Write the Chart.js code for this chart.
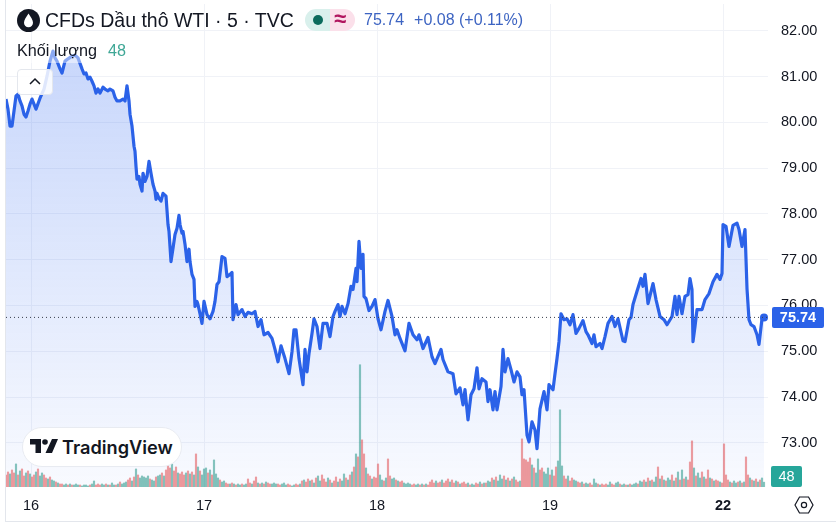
<!DOCTYPE html>
<html>
<head>
<meta charset="utf-8">
<title>CFDs Dầu thô WTI</title>
<script src="https://cdn.jsdelivr.net/npm/chart.js@4/dist/chart.umd.min.js"></script>
<style>
    html, body { margin: 0; padding: 0; background: #fff; }
    #wrap { position: relative; width: 836px; height: 523px; overflow: hidden; font-family: "Liberation Sans", Arial, sans-serif; color: #131722; }
    #wrap canvas { position: absolute; left: 0; top: 0; }
    .abs { position: absolute; white-space: nowrap; }
    #left_line { left: 5px; top: 0; width: 1px; height: 521px; background: #e3e6ec; }
    #bottom_line { left: 5px; top: 521px; width: 831px; height: 1px; background: #e3e6ec; }
    #legend_bg { left: 15px; top: 40px; width: 116px; height: 23px; background: rgba(255, 255, 255, 0.45); }
    #title { left: 45px; top: 8px; font-size: 19.5px; line-height: 24px; }
    #quote { left: 364px; top: 10px; font-size: 16px; line-height: 20px; color: #3d64c2; }
    #quote span { margin-left: 10px; }
    #volume_title { left: 17px; top: 40px; font-size: 16.2px; line-height: 20px; }
    #volume_value { left: 108px; top: 40px; font-size: 16.2px; line-height: 20px; color: #3fa796; }
    #collapse { left: 17px; top: 69px; width: 34px; height: 24px; background: rgba(255, 255, 255, 0.85); border: 1px solid #e4e7ed; border-radius: 4px; }
    #status_left { left: 305px; top: 9px; width: 25px; height: 22px; background: #d9f0ec; border-radius: 11px 0 0 11px; }
    #status_right { left: 330px; top: 9px; width: 25px; height: 22px; background: #fbe0ea; border-radius: 0 11px 11px 0; }
    #status_dot { left: 313px; top: 15px; width: 10px; height: 10px; background: #0b6b5c; border-radius: 50%; }
    #status_wave { left: 334px; top: 7px; font-size: 22px; line-height: 24px; font-weight: bold; color: #b1165f; }
    #logo { left: 22px; top: 427px; width: 158px; height: 38px; background: #fff; border: 1px solid #e8ebf1; border-radius: 20px; }
    #logo_text { left: 39px; top: 8px; font-family: Inter, sans-serif; font-weight: 600; font-size: 18.2px; line-height: 22px; color: #131722; }
</style>
</head>
<body>
<div id="wrap">
    <canvas id="oil_chart" width="836" height="523"></canvas>
    <div class="abs" id="left_line"></div>
    <div class="abs" id="bottom_line"></div>
    <div class="abs" id="legend_bg"></div>
    <svg class="abs" style="left:17px;top:9px" width="23" height="23" viewBox="0 0 23 23">
        <circle cx="11.5" cy="11.5" r="11.5" fill="#131722"/>
        <path d="M11.5 4.5 C9 8.5 7 11 7 13.8 A4.5 4.5 0 0 0 16 13.8 C16 11 14 8.5 11.5 4.5 Z" fill="#fff"/>
    </svg>
    <div class="abs" id="title">CFDs Dầu thô WTI · 5 · TVC</div>
    <div class="abs" id="status_left"></div>
    <div class="abs" id="status_right"></div>
    <div class="abs" id="status_dot"></div>
    <div class="abs" id="status_wave">≈</div>
    <div class="abs" id="quote">75.74<span>+0.08 (+0.11%)</span></div>
    <div class="abs" id="volume_title">Khối lượng</div>
    <div class="abs" id="volume_value">48</div>
    <div class="abs" id="collapse">
        <svg style="position:absolute;left:10px;top:7px" width="14" height="9" viewBox="0 0 14 9">
            <path d="M2 7 L7 2 L12 7" fill="none" stroke="#131722" stroke-width="1.5"/>
        </svg>
    </div>
    <div class="abs" id="logo">
        <svg style="position:absolute;left:7px;top:11px" width="28" height="15" viewBox="0 0 28 15">
            <path d="M0 0 H11 V14 H5.5 V5.5 H0 Z M22 0 H28 L22 14 H15.5 Z" fill="#131722"/>
            <circle cx="15" cy="3" r="2.8" fill="#131722"/>
        </svg>
        <div class="abs" id="logo_text">TradingView</div>
    </div>
    <svg class="abs" style="left:794px;top:496px" width="20" height="18" viewBox="0 0 20 18">
        <path d="M5.5 1 H14.5 L19 9 L14.5 17 H5.5 L1 9 Z" fill="none" stroke="#131722" stroke-width="1.2"/>
        <circle cx="10" cy="9" r="2.6" fill="none" stroke="#131722" stroke-width="1.2"/>
    </svg>
</div>
<script>
// one axis unit is one bar slot, 173 slots to a trading day
var dayTicks = [25, 198, 371, 544, 717];
var dayLabels = ['16', '17', '18', '19', '22'];
var priceTicks = [73, 74, 75, 76, 77, 78, 79, 80, 81, 82];
var lastPrice = 75.74;
var lastVolume = 48;

var priceBars = [
    0, 2, 4, 6, 8, 10, 12, 14, 16, 18,
    20, 22, 24, 26, 30, 34, 38, 41, 44, 47,
    49, 51, 54, 56, 59, 62, 66, 69, 72, 76,
    78, 80, 82, 84, 86, 88, 90, 92, 94, 97,
    99, 102, 104, 107, 109, 111, 114, 117, 119, 121,
    123, 124, 126, 128, 129, 130, 131, 133, 134, 136,
    137, 139, 141, 143, 145, 147, 149, 150, 151, 153,
    155, 157, 160, 162, 163, 165, 167, 169, 171, 173,
    174, 176, 177, 179, 181, 183, 184, 186, 188, 189,
    191, 192, 194, 196, 198, 201, 204, 207, 209, 211,
    213, 216, 219, 221, 224, 226, 227, 230, 232, 236,
    239, 242, 246, 249, 252, 255, 258, 262, 266, 269,
    272, 275, 279, 283, 286, 288, 290, 293, 295, 297,
    299, 301, 303, 306, 308, 311, 314, 317, 321, 324,
    327, 329, 332, 334, 336, 339, 342, 345, 347, 350,
    351, 353, 355, 357, 358, 360, 363, 366, 369, 372,
    375, 379, 382, 386, 389, 391, 394, 399, 403, 407,
    411, 413, 417, 422, 426, 429, 435, 437, 442, 447,
    450, 454, 457, 459, 462, 465, 468, 471, 473, 476,
    480, 482, 484, 487, 489, 491, 495, 497, 499, 502,
    505, 508, 511, 514, 516, 518, 521, 523, 526, 529,
    531, 534, 538, 541, 543, 547, 549, 551, 553, 555,
    558, 561, 564, 567, 570, 573, 577, 580, 582, 586,
    588, 590, 594, 596, 599, 602, 606, 609, 612, 617,
    619, 623, 625, 627, 631, 635, 637, 639, 642, 647,
    650, 654, 658, 661, 666, 669, 671, 673, 676, 679,
    682, 684, 686, 687, 689, 691, 696, 699, 703, 707,
    711, 714, 716, 717, 720, 723, 727, 731, 733, 736,
    739, 741, 743, 745, 748, 751, 753, 756, 758
];
var priceValues = [
    80.51, 80.29, 79.92, 79.92, 80.25, 80.58, 80.62, 80.47, 80.36, 80.18,
    80.12, 80.25, 80.40, 80.51, 80.29, 80.53, 80.73, 81.01, 81.34, 81.56,
    81.41, 81.34, 81.17, 81.08, 81.34, 81.39, 81.45, 81.47, 81.41, 81.17,
    81.06, 81.08, 80.95, 80.99, 80.90, 80.80, 80.64, 80.73, 80.64, 80.77,
    80.73, 80.69, 80.73, 80.69, 80.55, 80.47, 80.47, 80.51, 80.47, 80.80,
    80.47, 80.18, 79.92, 79.48, 79.37, 79.04, 78.76, 78.82, 78.65, 78.50,
    78.89, 78.71, 78.82, 79.15, 78.89, 78.65, 78.50, 78.32, 78.45, 78.34,
    78.28, 78.45, 78.39, 77.77, 77.62, 76.96, 77.25, 77.55, 77.69, 77.97,
    77.77, 77.58, 77.62, 77.34, 76.96, 77.23, 76.96, 76.68, 76.57, 75.98,
    76.09, 76.02, 75.82, 75.61, 76.09, 75.80, 75.71, 75.87, 76.09, 76.46,
    76.52, 77.07, 77.03, 76.63, 76.68, 76.72, 75.69, 76.02, 75.80, 75.91,
    75.76, 75.85, 75.82, 75.87, 75.54, 75.69, 75.36, 75.41, 75.28, 75.04,
    74.77, 75.12, 74.84, 74.51, 74.99, 75.47, 75.47, 74.84, 74.55, 74.27,
    75.04, 74.55, 74.95, 75.39, 75.71, 75.54, 75.06, 75.61, 75.61, 75.32,
    75.76, 75.87, 76.02, 75.76, 75.98, 75.82, 76.04, 76.42, 76.35, 76.81,
    76.52, 77.40, 76.81, 77.12, 76.20, 76.15, 75.89, 75.98, 76.13, 75.71,
    75.47, 75.87, 76.11, 75.76, 75.36, 75.47, 75.28, 75.01, 75.61, 75.36,
    75.25, 75.36, 75.06, 75.30, 74.88, 74.73, 75.04, 74.82, 74.55, 74.51,
    74.07, 74.20, 73.83, 74.16, 73.50, 74.05, 74.18, 74.64, 74.18, 74.40,
    74.33, 73.90, 74.16, 73.72, 74.12, 73.72, 74.23, 75.04, 74.55, 74.84,
    74.60, 74.33, 74.55, 74.44, 74.05, 74.16, 73.17, 73.02, 73.46, 73.28,
    72.87, 73.74, 74.12, 73.72, 74.27, 74.16, 74.51, 74.84, 75.21, 75.82,
    75.69, 75.71, 75.58, 75.80, 75.39, 75.50, 75.67, 75.43, 75.36, 75.17,
    75.36, 75.10, 75.17, 75.06, 75.32, 75.61, 75.76, 75.54, 75.71, 75.23,
    75.21, 75.69, 75.74, 76.02, 76.31, 76.59, 76.42, 76.68, 76.04, 76.48,
    76.13, 75.76, 75.69, 75.58, 75.76, 76.20, 75.80, 76.20, 75.82, 76.20,
    76.24, 76.59, 76.35, 75.21, 75.54, 75.91, 75.91, 76.13, 76.26, 76.52,
    76.68, 76.57, 76.70, 77.77, 77.73, 77.29, 77.75, 77.80, 77.66, 77.29,
    77.66, 76.37, 75.69, 75.58, 75.54, 75.36, 75.15, 75.71, 75.74
];

// volume per bar, every second slot
var volumeValues = [
    120, 150, 130, 170, 140, 230, 120, 160, 180, 110, 140, 160, 130, 100, 120, 150, 180, 110, 140, 120,
    90, 80, 100, 70, 60, 50, 40, 30, 30, 20, 30, 20, 30, 20, 20, 30, 20, 20, 10, 20,
    20, 10, 20, 30, 60, 20, 30, 20, 30, 20, 30, 20, 20, 40, 20, 20, 30, 50, 30, 40,
    50, 70, 90, 60, 100, 180, 120, 90, 110, 100, 90, 110, 80, 70, 60, 100, 110, 120, 140, 110,
    170, 220, 190, 230, 160, 200, 140, 130, 150, 120, 140, 160, 130, 150, 120, 330, 200, 160, 120, 180,
    190, 140, 170, 120, 270, 130, 90, 70, 50, 60, 40, 30, 30, 40, 30, 20, 30, 20, 30, 20,
    30, 80, 40, 30, 60, 100, 40, 30, 40, 30, 50, 40, 30, 30, 40, 30, 30, 20, 30, 40,
    20, 30, 20, 10, 20, 30, 20, 30, 60, 70, 50, 80, 60, 70, 40, 90, 110, 60, 120, 80,
    50, 90, 70, 40, 60, 100, 50, 80, 60, 130, 90, 70, 120, 150, 200, 330, 300, 1220, 470, 330,
    190, 130, 110, 80, 100, 90, 230, 120, 70, 60, 90, 280, 110, 80, 90, 70, 60, 50, 60, 40,
    30, 40, 30, 20, 30, 20, 30, 20, 30, 20, 30, 20, 50, 70, 40, 60, 40, 50, 70, 40,
    60, 80, 50, 70, 40, 60, 50, 30, 40, 50, 30, 40, 20, 30, 20, 40, 30, 50, 30, 40,
    40, 60, 50, 90, 70, 100, 60, 120, 80, 110, 70, 90, 60, 80, 100, 70, 50, 60, 480, 280,
    270, 250, 290, 220, 190, 140, 280, 170, 190, 150, 130, 190, 120, 170, 110, 200, 260, 770, 210, 110,
    80, 110, 60, 90, 70, 60, 50, 40, 50, 30, 40, 30, 40, 20, 80, 40, 30, 20, 30, 20,
    30, 20, 50, 30, 20, 40, 50, 30, 20, 30, 20, 20, 30, 20, 30, 40, 30, 60, 50, 70,
    50, 90, 60, 70, 50, 100, 200, 80, 110, 70, 60, 90, 70, 120, 60, 90, 150, 70, 170, 80,
    100, 70, 250, 460, 190, 110, 140, 90, 150, 100, 80, 170, 90, 80, 60, 70, 60, 50, 40, 430,
    120, 70, 50, 40, 60, 40, 50, 60, 40, 50, 300, 120, 90, 70, 60, 80, 50, 70, 90, 48
];
// g = bar closed up, r = bar closed down
var volumeSides = (
    "rrgrrgrgrrgrgrrgrggr" + "rgrggrgrrggrgrgggrgg" + "ggrggrrrggrgrggrgrgg" + "grrgrgrgggggrggrggrg" +
    "rrrgrrgrrrgrgrgrgrgg" + "grgrgggrggrrgrgrggrg" + "grrgrrgrgrgrrgggrrgg" + "grrggrrgrgrrgrgrggrr" +
    "rgrgrrgrggrgrgrgrgrr" + "grrgrrrggrgrrggrgrrg" + "gggrrggrgrgrrrrgrrgr" + "rrgrrgrgrrrgrggrrgrg" +
    "rggrgrgggrgrgrgrrgrr" + "rrrgrggrrgggrgrrgggr" + "rgrrggrrgrggrrggrgrr" + "rggrrggrggrgrgggrggr" +
    "grgrggrgrgrggrgrgrgr" + "grrrgrggrgrrgrgrrgrr" + "rrgrggrgrgrrgrgrgrgg"
).split("");

var lineColor = '#2b62e8';
var gridColor = '#f0f2f7';
var volumeUp = 'rgba(38, 150, 135, 0.55)';
var volumeDown = 'rgba(226, 78, 82, 0.55)';
var labelFont = '"Liberation Sans", Arial, sans-serif';

var pricePoints = priceBars.map(function (bar, i) {
    return { x: bar, y: priceValues[i] };
});
var volumePoints = volumeValues.map(function (value, i) {
    return { x: i * 2, y: value };
});
var volumeColors = volumeSides.map(function (side) {
    return side === "g" ? volumeUp : volumeDown;
});

function areaGradient(context) {
    var area = context.chart.chartArea;
    if (!area) {
        return 'rgba(41, 98, 255, 0.2)';
    }
    var gradient = context.chart.ctx.createLinearGradient(0, 50, 0, area.bottom);
    gradient.addColorStop(0, 'rgba(41, 98, 240, 0.26)');
    gradient.addColorStop(1, 'rgba(41, 98, 240, 0.03)');
    return gradient;
}

// value tags sitting on the price scale
var scaleTags = {
    id: 'scaleTags',
    afterDraw: function (chart) {
        var ctx = chart.ctx;
        var price = chart.scales.y;
        var volume = chart.scales.volume;
        var drawTag = function (text, left, width, center, fill, font) {
            ctx.save();
            ctx.fillStyle = fill;
            ctx.beginPath();
            ctx.roundRect(left, center - 10.5, width, 21, 2);
            ctx.fill();
            ctx.fillStyle = '#fff';
            ctx.font = font;
            ctx.textAlign = 'center';
            ctx.textBaseline = 'middle';
            ctx.fillText(text, left + width / 2, center + 0.5);
            ctx.restore();
        };
        drawTag(lastPrice.toFixed(2), 772, 52, price.getPixelForValue(lastPrice), lineColor, 'bold 14.5px ' + labelFont);
        drawTag(String(lastVolume), 771, 31, volume.getPixelForValue(0) - 10.5, '#26a69a', '14.5px ' + labelFont);
    }
};

new Chart('oil_chart', {
    data: {
        datasets: [{
            type: 'line',
            data: [{ x: 0, y: lastPrice }, { x: 762, y: lastPrice }],
            yAxisID: 'y',
            borderColor: '#3a3f4b',
            borderWidth: 1,
            borderDash: [1, 3],
            pointRadius: 0,
            order: 1
        }, {
            type: 'line',
            data: pricePoints,
            yAxisID: 'y',
            borderColor: lineColor,
            borderWidth: 3.2,
            borderJoinStyle: 'round',
            tension: 0,
            fill: 'start',
            backgroundColor: areaGradient,
            pointBackgroundColor: lineColor,
            pointBorderWidth: 0,
            pointRadius: function (context) {
                return context.dataIndex === priceBars.length - 1 ? 4 : 0;
            },
            order: 2
        }, {
            type: 'bar',
            data: volumePoints,
            yAxisID: 'volume',
            backgroundColor: volumeColors,
            barThickness: 1.5,
            order: 0
        }]
    },
    options: {
        responsive: false,
        animation: false,
        layout: { padding: { left: 6 } },
        plugins: { legend: { display: false }, tooltip: { enabled: false } },
        scales: {
            x: {
                type: 'linear',
                offset: false,
                min: 0,
                max: 762,
                afterBuildTicks: function (axis) {
                    axis.ticks = dayTicks.map(function (value) {
                        return { value: value };
                    });
                },
                afterFit: function (axis) {
                    axis.height = 36;
                    axis.paddingLeft = 0;
                    axis.paddingRight = 0;
                },
                grid: { color: gridColor, drawTicks: false, offset: false },
                border: { display: false },
                ticks: {
                    autoSkip: false,
                    maxRotation: 0,
                    padding: 10,
                    color: '#131722',
                    font: function (context) {
                        var bold = context.tick && context.tick.value === 717;
                        return { family: labelFont, size: 14.5, weight: bold ? 'bold' : 'normal' };
                    },
                    callback: function (value) {
                        return dayLabels[dayTicks.indexOf(value)];
                    }
                }
            },
            y: {
                position: 'right',
                min: 72.034,
                max: 82.588,
                afterBuildTicks: function (axis) {
                    axis.ticks = priceTicks.map(function (value) {
                        return { value: value };
                    });
                },
                afterFit: function (axis) {
                    axis.width = 68;
                    axis.paddingTop = 0;
                    axis.paddingBottom = 0;
                },
                grid: { color: gridColor, drawTicks: false },
                border: { display: false },
                ticks: {
                    padding: 13,
                    color: '#131722',
                    font: { family: labelFont, size: 14.5 },
                    callback: function (value) {
                        return value.toFixed(2);
                    }
                }
            },
            volume: {
                display: false,
                min: 0,
                max: 4820
            }
        }
    },
    plugins: [scaleTags]
});
</script>
</body>
</html>
